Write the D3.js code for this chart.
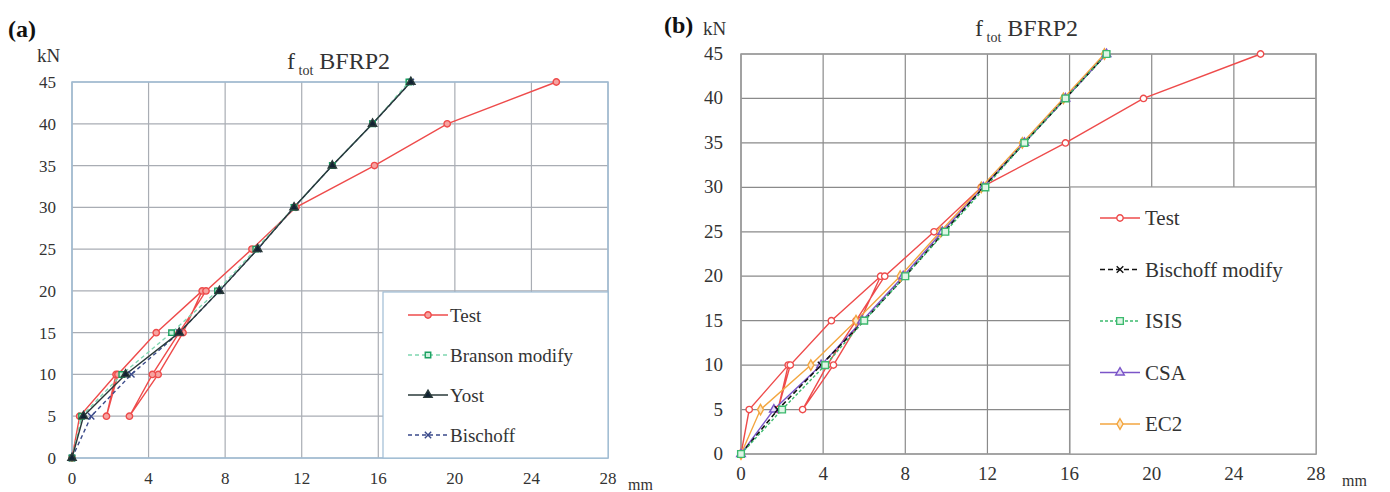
<!DOCTYPE html>
<html>
<head>
<meta charset="utf-8">
<script src="https://cdn.jsdelivr.net/npm/d3@7"></script>
<style>
  body { margin: 0; background: #fff; }
</style>
</head>
<body>
<svg width="1390" height="492" font-family="'Liberation Serif', 'Times New Roman', serif"></svg>
<script>
// ---- data ----
const loadSteps = [0, 5, 10, 15, 20, 25, 30, 35, 40, 45];
const xTicks = [0, 4, 8, 12, 16, 20, 24, 28];
const yTicks = [0, 5, 10, 15, 20, 25, 30, 35, 40, 45];

// test curve (cyclic loading)
const testLoad = [0, 5, 10, 5, 10, 15, 20, 15, 10, 5, 10, 15, 20, 25, 30, 35, 40, 45];
const testDefl = [0, 0.4, 2.3, 1.8, 2.4, 4.4, 6.8, 5.8, 4.5, 3.0, 4.2, 5.6, 7.0, 9.4, 11.7, 15.8, 19.6, 25.3];

// panel (a) models
const bransonDefl = [0, 0.5, 2.6, 5.2, 7.6, 9.6, 11.6, 13.6, 15.7, 17.6];
const yostDefl = [0, 0.6, 2.8, 5.6, 7.7, 9.7, 11.6, 13.6, 15.7, 17.7];
const bischoffDefl = [0, 1.0, 3.1, 5.6, 7.7, 9.7, 11.6, 13.6, 15.7, 17.7];

// panel (b) models
const bischoffModDefl = [0, 1.8, 3.9, 6.0, 8.0, 9.9, 11.8, 13.8, 15.8, 17.8];
const isisDefl = [0, 2.0, 4.1, 6.0, 8.0, 9.95, 11.9, 13.8, 15.8, 17.8];
const csaDefl = [0, 1.6, 3.9, 5.9, 7.9, 9.8, 11.8, 13.8, 15.8, 17.8];
const ec2Defl = [0, 0.95, 3.4, 5.6, 7.75, 9.7, 11.7, 13.7, 15.7, 17.7];

const svg = d3.select("svg");

function pts(defl, load) {
  return defl.map((d, i) => [d, load[i]]);
}

function panel(cfg) {
  const x = d3.scaleLinear().domain([0, 28]).range([cfg.left, cfg.right]);
  const y = d3.scaleLinear().domain([0, 45]).range([cfg.bottom, cfg.top]);
  const g = svg.append("g");
  const txt = "#333";

  // grid
  g.selectAll(".vg").data(xTicks).join("line")
    .attr("x1", d => x(d)).attr("x2", d => x(d))
    .attr("y1", cfg.top).attr("y2", cfg.bottom)
    .attr("stroke", cfg.gridColor).attr("stroke-width", 1.2);
  g.selectAll(".hg").data(yTicks).join("line")
    .attr("x1", cfg.left).attr("x2", cfg.right)
    .attr("y1", d => y(d)).attr("y2", d => y(d))
    .attr("stroke", cfg.gridColor).attr("stroke-width", 1.2);
  // frame
  g.append("rect")
    .attr("x", cfg.left).attr("y", cfg.top)
    .attr("width", cfg.right - cfg.left).attr("height", cfg.bottom - cfg.top)
    .attr("fill", "none").attr("stroke", cfg.frameColor).attr("stroke-width", 1.5);

  // tick labels
  g.selectAll(".xl").data(xTicks).join("text")
    .attr("x", d => x(d)).attr("y", cfg.bottom + 26)
    .attr("text-anchor", "middle").attr("font-size", cfg.tickSize).attr("fill", txt)
    .text(d => d);
  g.selectAll(".yl").data(yTicks).join("text")
    .attr("x", cfg.left - cfg.tickGap).attr("y", d => y(d) + 6)
    .attr("text-anchor", "end").attr("font-size", cfg.tickSize).attr("fill", txt)
    .text(d => d);
  g.append("text").attr("x", cfg.mmX).attr("y", cfg.mmY)
    .attr("font-size", 16).attr("fill", txt).text("mm");
  g.append("text").attr("x", cfg.kNX).attr("y", cfg.kNY)
    .attr("font-size", 19).attr("fill", txt).text("kN");
  g.append("text").attr("x", cfg.tagX).attr("y", cfg.tagY)
    .attr("font-size", 24).attr("font-weight", "bold").attr("fill", "#111").text(cfg.tag);

  const t = g.append("text").attr("x", cfg.titleX).attr("y", cfg.titleY)
    .attr("font-size", 24).attr("fill", txt);
  t.append("tspan").text("f");
  t.append("tspan").attr("font-size", 14).attr("dy", 6).text(" tot");
  t.append("tspan").attr("dy", -6).text(" BFRP2");

  const line = d3.line().x(d => x(d[0])).y(d => y(d[1]));

  cfg.series.forEach(s => {
    g.append("path").datum(s.data)
      .attr("d", line).attr("fill", "none")
      .attr("stroke", s.color).attr("stroke-width", s.width || 1.4)
      .attr("stroke-dasharray", s.dash || null);
  });
  cfg.series.forEach(s => {
    g.selectAll(null).data(s.data).join("path")
      .attr("transform", d => `translate(${x(d[0])},${y(d[1])})`)
      .attr("d", d3.symbol().type(s.symbol).size(s.size || 30))
      .attr("fill", s.fill).attr("stroke", s.markerStroke || s.color).attr("stroke-width", 1.4);
  });

  // legend
  const lg = cfg.legend;
  g.append("rect").attr("x", lg.x0).attr("y", lg.y0)
    .attr("width", lg.x1 - lg.x0).attr("height", lg.y1 - lg.y0)
    .attr("fill", "#fff").attr("stroke", cfg.frameColor).attr("stroke-width", 1.2);
  cfg.legendOrder.forEach((s, i) => {
    const yy = lg.firstY + i * lg.step;
    g.append("line").attr("x1", lg.lineX0).attr("x2", lg.lineX0 + 40)
      .attr("y1", yy).attr("y2", yy)
      .attr("stroke", s.color).attr("stroke-width", s.width || 1.4)
      .attr("stroke-dasharray", s.dash || null);
    g.append("path").attr("transform", `translate(${lg.lineX0 + 20},${yy})`)
      .attr("d", d3.symbol().type(s.symbol).size(s.size || 30))
      .attr("fill", s.fill).attr("stroke", s.markerStroke || s.color).attr("stroke-width", 1.4);
    g.append("text").attr("x", lg.textX).attr("y", yy + 7)
      .attr("font-size", lg.fontSize).attr("fill", txt).text(s.name);
  });
}

// ---- panel (a) ----
const aTest = { name: "Test", data: pts(testDefl, testLoad), color: "#ee4b4b", fill: "#f6a3a0", symbol: d3.symbolCircle, size: 32 };
const aBranson = { name: "Branson modify", data: pts(bransonDefl, loadSteps), color: "#7fd6b0", dash: "4,3", fill: "#c9f0dc", markerStroke: "#1aa060", symbol: d3.symbolSquare, size: 30 };
const aYost = { name: "Yost", data: pts(yostDefl, loadSteps), color: "#2a3a3a", fill: "#123", symbol: d3.symbolTriangle, size: 30 };
const aBisch = { name: "Bischoff", data: pts(bischoffDefl, loadSteps), color: "#3a4a8a", dash: "4,3", fill: "#3a4a8a", symbol: d3.symbolTimes, size: 28 };

panel({
  left: 72, right: 608, top: 82, bottom: 458,
  gridColor: "#a9adb4", frameColor: "#9fbcd4",
  tickSize: 17, tickGap: 16,
  tag: "(a)", tagX: 8, tagY: 37, titleX: 287, titleY: 69,
  kNX: 37, kNY: 62, mmX: 628, mmY: 490,
  series: [aTest, aBisch, aBranson, aYost],
  legendOrder: [aTest, aBranson, aYost, aBisch],
  legend: { x0: 383, x1: 608, y0: 292, y1: 458, firstY: 315, step: 40, lineX0: 408, textX: 450, fontSize: 19 }
});

// ---- panel (b) ----
const bTest = { name: "Test", data: pts(testDefl, testLoad), color: "#ee4b4b", fill: "#fff", symbol: d3.symbolCircle, size: 32 };
const bBisch = { name: "Bischoff modify", data: pts(bischoffModDefl, loadSteps), color: "#111", dash: "5,3", fill: "#111", symbol: d3.symbolTimes, size: 30, width: 1.6 };
const bIsis = { name: "ISIS", data: pts(isisDefl, loadSteps), color: "#3cba6e", dash: "3,2", fill: "#dff5e6", symbol: d3.symbolSquare, size: 45 };
const bCsa = { name: "CSA", data: pts(csaDefl, loadSteps), color: "#7b55c8", fill: "#e6ddf7", symbol: d3.symbolTriangle, size: 32 };
const bEc2 = { name: "EC2", data: pts(ec2Defl, loadSteps), color: "#f3a640", fill: "#fde8c8", symbol: d3.symbolDiamond, size: 32 };

panel({
  left: 741, right: 1316, top: 54, bottom: 454,
  gridColor: "#8a8a8a", frameColor: "#9a9a9a",
  tickSize: 19, tickGap: 18,
  tag: "(b)", tagX: 664, tagY: 33, titleX: 975, titleY: 36,
  kNX: 703, kNY: 35, mmX: 1342, mmY: 486,
  series: [bTest, bEc2, bCsa, bBisch, bIsis],
  legendOrder: [bTest, bBisch, bIsis, bCsa, bEc2],
  legend: { x0: 1070, x1: 1316, y0: 187, y1: 454, firstY: 218, step: 51.5, lineX0: 1100, textX: 1145, fontSize: 21 }
});
</script>
</body>
</html>
